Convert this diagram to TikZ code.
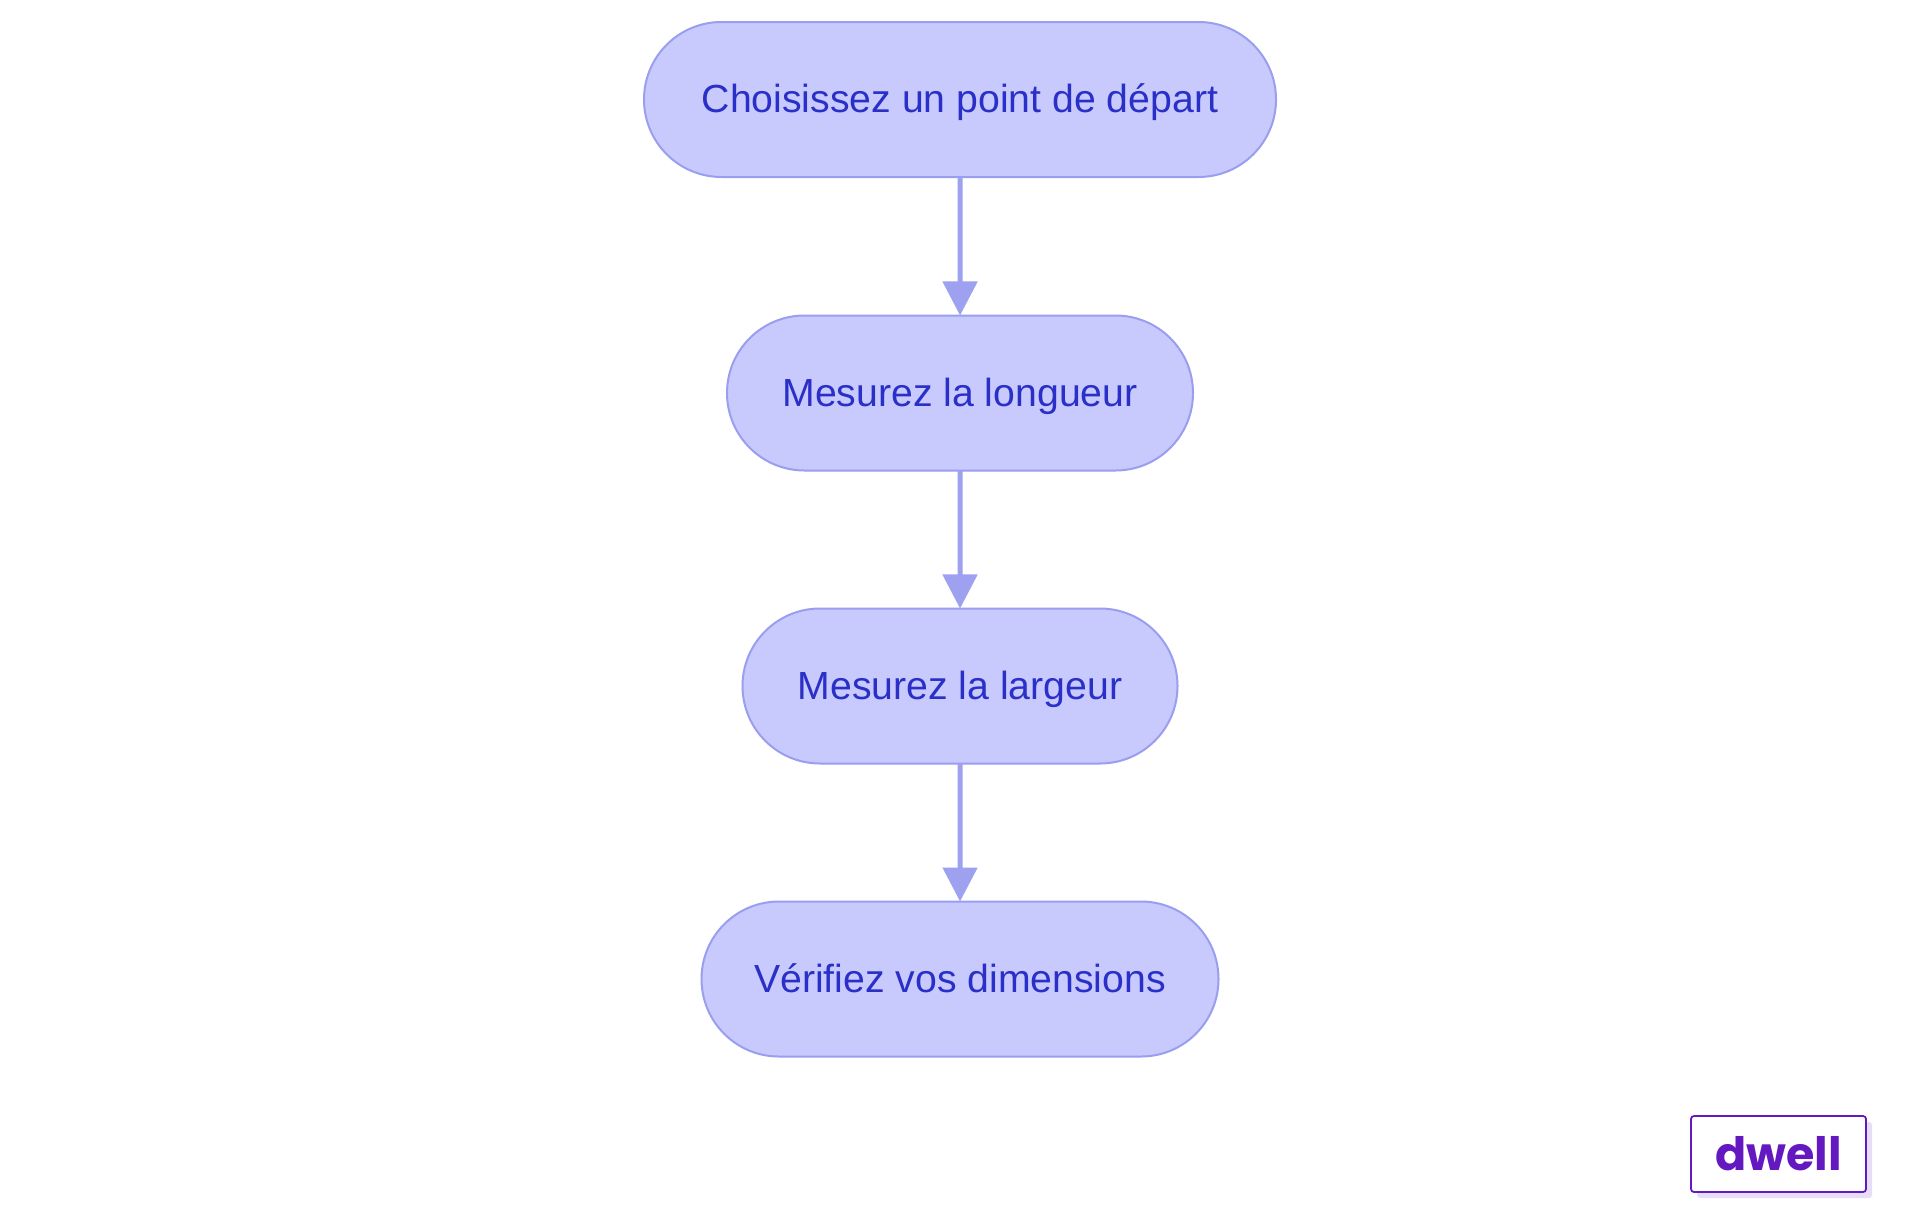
\documentclass[tikz,border=0pt]{standalone}
\usepackage{fontspec}
\setmainfont{Liberation Sans}
\newfontfamily\logofont{Poppins}
\usetikzlibrary{arrows.meta,shapes.misc,shadows}
\definecolor{boxfill}{HTML}{C8CAFD}
\definecolor{boxline}{HTML}{9A9EEE}
\definecolor{boxtext}{HTML}{2A2FC8}
\definecolor{arrowc}{HTML}{9DA1F0}
\definecolor{logoc}{HTML}{6419C0}
\definecolor{shadowc}{HTML}{E8DDF7}
\tikzset{
  stepbox/.style={rounded rectangle, rounded rectangle arc length=180,
    draw=boxline, line width=1pt, fill=boxfill, text=boxtext,
    minimum height=77.5pt, inner sep=0pt, outer sep=0pt,
    font=\fontsize{19.6}{23}\selectfont, text height=13pt, text depth=0pt},
  arr/.style={draw=arrowc, line width=2.5pt,
    -{Triangle[width=17pt,length=17pt]}},
  logobox/.style={draw=logoc, line width=0.9pt, fill=white, rounded corners=1.5pt,
    minimum width=87.5pt, minimum height=38pt, inner sep=0pt, text=logoc,
    font=\logofont\bfseries\fontsize{23}{26}\selectfont,
    general shadow={fill=shadowc, shadow xshift=3pt, shadow yshift=-3pt}}
}
\begin{document}
\begin{tikzpicture}[x=0.5pt,y=-0.5pt]
\useasboundingbox[fill=white] (0,0) rectangle (1920,1215);
\node[stepbox, minimum width=316pt] (n1) at (960,99.5) {Choisissez un point de départ};
\node[stepbox, minimum width=233pt] (n2) at (960,393) {Mesurez la longueur};
\node[stepbox, minimum width=217.5pt] (n3) at (960,686) {Mesurez la largeur};
\node[stepbox, minimum width=258.5pt] (n4) at (960,979) {Vérifiez vos dimensions};
\draw[arr] (n1) -- (n2);
\draw[arr] (n2) -- (n3);
\draw[arr] (n3) -- (n4);
\node[logobox] (logo) at (1778.5,1154) {dwell};
\end{tikzpicture}
\end{document}
